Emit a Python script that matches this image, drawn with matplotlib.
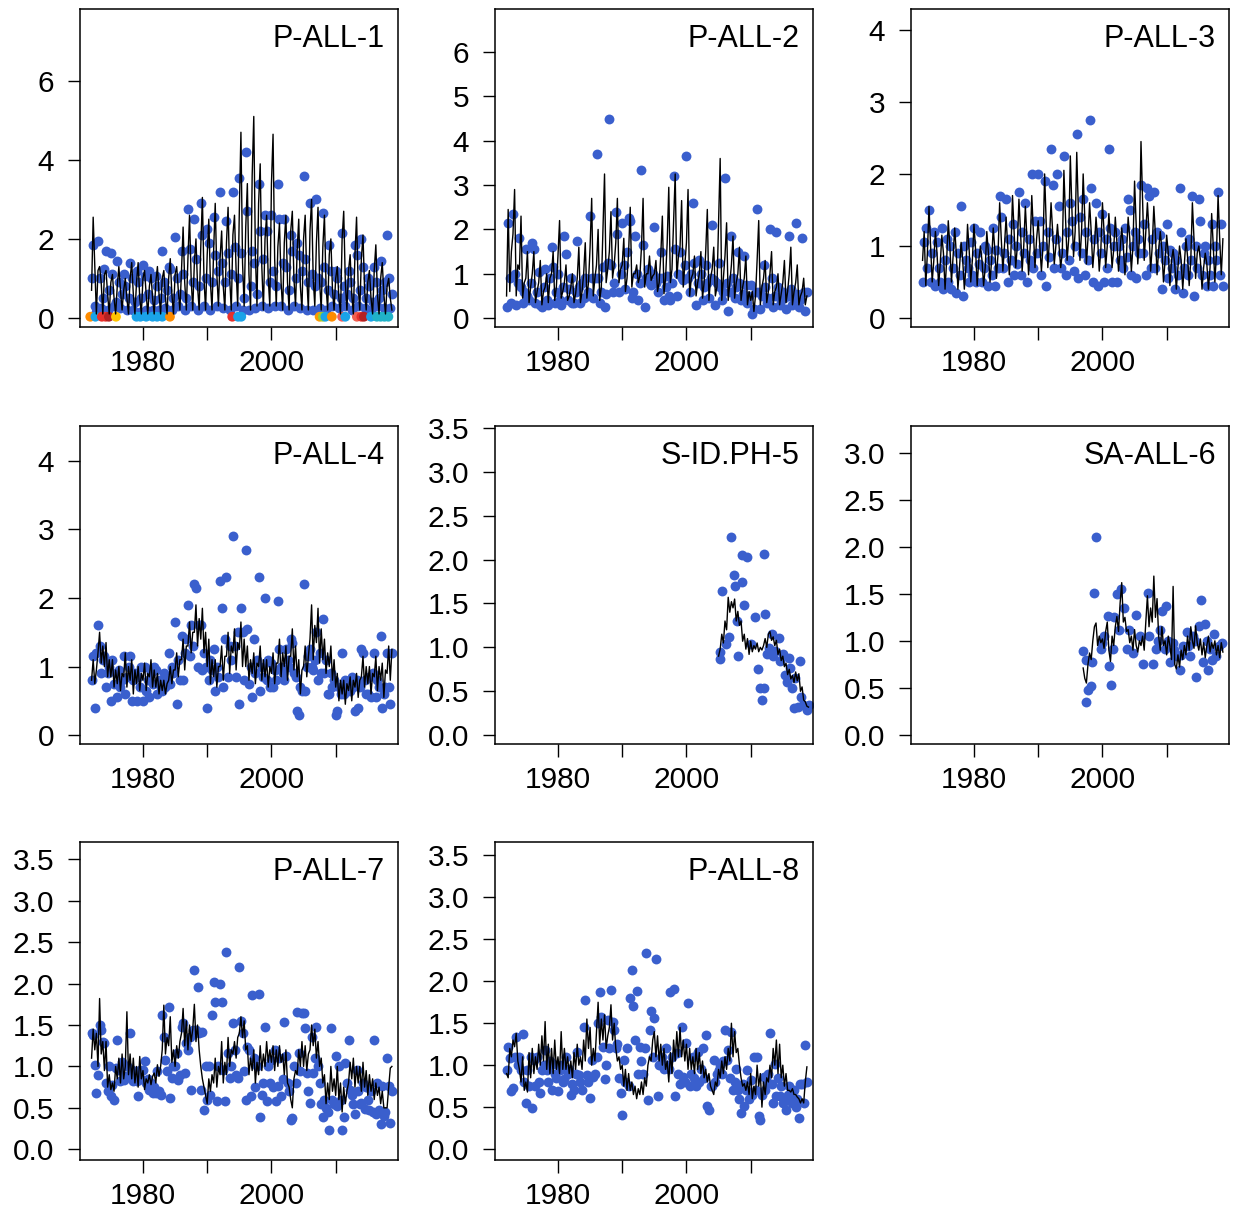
import matplotlib.pyplot as plt
import numpy as np

plt.rcParams['font.family'] = ['Liberation Sans', 'DejaVu Sans']

# quarterly time steps for the long series (1972.00 .. 2018.75)
quarters = np.arange(1972, 2019, 0.25)

names = ['P-ALL-1', 'P-ALL-2', 'P-ALL-3', 'P-ALL-4',
         'S-ID.PH-5', 'SA-ALL-6', 'P-ALL-7', 'P-ALL-8']

# ---- P-ALL-1 ----
p1_obs = [
    1.00, 1.85, 0.30, 0.15,  1.95, 1.00, 0.25, 0.50,  1.25, 1.70, 0.20, 0.70,
    1.65, 1.10, 0.30, 0.40,  1.45, 0.90, 0.25, 0.60,  1.10, 0.80, 0.20, 0.50,
    1.40, 1.00, 0.20, 0.40,  1.20, 0.90, 0.15, 0.50,  1.35, 1.05, 0.20, 0.60,
    1.20, 1.00, 0.20, 0.45,  1.05, 0.80, 0.20, 0.50,  1.70, 0.90, 0.25, 0.70,
    1.30, 1.25, 0.20, 0.50,  2.05, 1.00, 0.30, 0.60,  1.70, 1.10, 0.20, 0.50,
    2.75, 1.75, 0.30, 0.90,  2.50, 1.50, 0.20, 0.80,  2.90, 2.10, 0.30, 1.00,
    2.25, 1.90, 0.20, 0.90,  2.55, 1.60, 0.30, 1.20,  3.20, 1.40, 0.25, 0.90,
    2.45, 1.65, 0.20, 1.10,  3.20, 1.80, 0.30, 1.00,  3.55, 1.65, 0.20, 0.50,
    4.20, 2.70, 0.20, 0.80,  1.70, 1.40, 0.25, 0.60,  3.40, 2.20, 0.30, 1.50,
    2.60, 2.20, 0.25, 0.90,  2.60, 1.20, 0.30, 0.80,  3.40, 2.50, 0.30, 1.40,
    2.50, 1.30, 0.20, 0.70,  2.10, 1.70, 0.30, 1.00,  1.90, 1.60, 0.25, 1.20,
    3.60, 1.50, 0.20, 0.90,  2.90, 1.10, 0.20, 0.80,  3.00, 1.00, 0.25, 0.90,
    2.65, 1.30, 0.20, 0.70,  1.85, 1.20, 0.30, 0.60,  1.20, 1.00, 0.25, 0.50,
    2.15, 0.80, 0.30, 0.60,  1.20, 0.90, 0.20, 0.50,  1.85, 1.60, 0.30, 0.70,
    2.00, 1.30, 0.25, 0.50,  1.00, 0.80, 0.20, 0.40,  1.30, 0.90, 0.30, 0.50,
    1.45, 0.70, 0.25, 0.90,  2.10, 1.00, 0.25, 0.60,
]
p1_fit = [
    0.70, 2.55, 1.30, 0.10,  1.20, 1.30, 0.90, 0.10,  1.10, 1.20, 0.60, 0.10,
    0.90, 1.10, 0.50, 0.10,  0.80, 1.30, 0.70, 0.20,  0.70, 1.00, 0.50, 0.10,
    1.00, 1.40, 0.60, 0.10,  0.90, 1.40, 0.50, 0.10,  1.00, 1.20, 0.60, 0.10,
    0.80, 1.10, 0.50, 0.10,  0.90, 1.30, 0.60, 0.10,  1.00, 1.20, 0.50, 0.10,
    1.00, 1.50, 0.60, 0.10,  1.10, 1.30, 0.70, 0.20,  1.20, 2.30, 0.90, 0.20,
    1.50, 2.60, 1.00, 0.20,  1.40, 2.00, 0.80, 0.20,  1.80, 3.05, 1.00, 0.20,
    1.60, 2.50, 0.90, 0.20,  1.70, 2.90, 1.10, 0.30,  1.50, 2.20, 0.80, 0.20,
    1.90, 2.80, 1.00, 0.20,  2.10, 2.60, 1.20, 0.30,  2.70, 4.70, 1.40, 0.30,
    2.30, 3.40, 1.10, 0.20,  3.60, 5.10, 1.60, 0.30,  2.90, 3.90, 1.30, 0.20,
    2.00, 2.60, 1.00, 0.30,  3.40, 4.65, 1.50, 0.30,  1.80, 2.40, 0.90, 0.20,
    1.90, 2.60, 0.90, 0.20,  2.20, 2.70, 1.00, 0.30,  1.70, 2.50, 0.80, 0.20,
    2.00, 2.60, 1.00, 0.20,  2.20, 3.00, 1.00, 0.30,  1.90, 2.80, 0.90, 0.20,
    1.80, 2.60, 0.80, 0.20,  1.60, 2.00, 0.70, 0.20,  1.00, 1.30, 0.50, 0.10,
    2.00, 2.70, 0.90, 0.20,  1.20, 1.60, 0.60, 0.10,  1.60, 2.55, 0.80, 0.20,
    1.50, 2.10, 0.70, 0.20,  0.90, 1.20, 0.50, 0.10,  1.20, 1.85, 0.60, 0.10,
    1.00, 1.40, 0.60, 0.10,  0.80, 1.00, 0.50, 0.20,
]
# zero observations in P-ALL-1, coloured by group
lb = '#1AA3E8'
p1_zero_yr = [1971.8, 1972.6, 1973.6, 1974.2, 1974.7, 1975.8, 1979.0, 1979.6,
              1980.5, 1981.5, 1982.2, 1983.0, 1984.2, 1993.9, 1994.8, 1995.3,
              2007.5, 2008.0, 2008.4, 2009.4, 2011.0, 2011.5, 2013.3, 2014.0,
              2014.4, 2015.5, 2016.4, 2017.0, 2017.6, 2018.2]
p1_zero_col = ['#FF8C00', lb, '#E8302A', '#E8302A', '#B22222', '#FFC400', lb, lb,
               lb, lb, lb, lb, '#FF8C00', '#E8302A', lb, lb,
               '#FF9900', '#9ACD32', lb, '#FF8C00', '#F25B5B', lb, '#F06050', '#E8302A',
               '#B22222', lb, '#20B2C8', '#20B2C8', '#20B2C8', '#20B2C8']

# ---- P-ALL-2 ----
p2_obs = [
    0.25, 2.15, 0.90, 0.35,  2.35, 1.00, 0.30, 0.80,  1.80, 0.70, 0.35, 0.60,
    1.55, 0.50, 0.40, 0.80,  1.70, 1.55, 0.35, 0.60,  1.05, 0.30, 0.25, 0.70,
    1.10, 0.40, 0.30, 0.90,  1.60, 1.15, 0.35, 0.60,  1.00, 0.40, 0.30, 0.70,
    1.85, 1.45, 0.40, 0.65,  0.90, 0.35, 0.35, 0.60,  1.75, 0.70, 0.35, 0.80,
    0.45, 0.90, 0.50, 0.60,  2.30, 0.90, 0.45, 0.90,  3.70, 0.90, 0.35, 0.60,
    1.15, 0.25, 0.55, 1.25,  4.50, 1.20, 0.60, 0.80,  2.40, 1.90, 0.60, 1.00,
    2.15, 1.20, 0.65, 1.50,  2.25, 2.20, 0.45, 0.60,  1.85, 1.00, 0.40, 0.80,
    3.35, 1.65, 0.25, 0.90,  1.10, 0.80, 0.75, 1.00,  2.05, 0.80, 0.60, 0.90,
    1.50, 0.90, 0.40, 0.70,  0.95, 0.50, 0.40, 0.80,  3.20, 1.55, 0.50, 1.00,
    1.50, 0.90, 0.85, 1.20,  3.65, 0.90, 0.60, 1.00,  2.60, 1.25, 0.30, 0.80,
    1.30, 1.00, 0.40, 0.70,  1.20, 0.80, 0.45, 0.90,  2.10, 0.85, 0.30, 0.80,
    1.25, 0.70, 0.40, 0.60,  3.15, 0.80, 0.15, 0.60,  1.85, 0.90, 0.45, 0.70,
    1.50, 0.80, 0.40, 0.55,  1.40, 0.75, 0.35, 0.50,  0.75, 0.10, 0.20, 0.60,
    2.45, 0.60, 0.20, 0.50,  1.20, 0.70, 0.35, 0.45,  2.00, 0.90, 0.25, 0.50,
    1.95, 0.70, 0.30, 0.40,  0.60, 0.45, 0.20, 0.50,  1.85, 0.65, 0.30, 0.45,
    2.15, 0.55, 0.25, 0.40,  1.80, 0.60, 0.15, 0.60,
]
p2_fit = [
    0.50, 2.45, 0.60, 1.50,  1.90, 2.90, 0.50, 1.20,  1.10, 2.30, 0.45, 0.80,
    0.90, 1.50, 0.35, 0.70,  1.00, 1.50, 0.35, 0.60,  0.80, 1.30, 0.30, 0.60,
    0.70, 1.00, 0.35, 0.90,  1.00, 1.50, 0.40, 0.70,  1.40, 2.20, 0.45, 0.60,
    0.80, 1.20, 0.40, 0.50,  0.70, 1.00, 0.35, 0.55,  0.90, 1.60, 0.35, 0.60,
    1.00, 1.70, 0.45, 0.80,  1.60, 2.70, 0.50, 0.90,  1.20, 2.00, 0.40, 0.70,
    2.00, 3.25, 0.80, 1.10,  1.50, 2.40, 0.90, 1.20,  1.70, 2.70, 0.80, 1.10,
    1.20, 1.80, 0.60, 0.90,  1.50, 2.50, 0.70, 1.00,  1.00, 1.20, 0.80, 0.95,
    1.60, 2.70, 0.70, 1.00,  1.00, 1.40, 0.85, 0.95,  1.00, 1.30, 0.60, 0.80,
    1.40, 2.30, 0.55, 0.90,  1.70, 2.95, 0.80, 1.10,  2.20, 3.25, 0.90, 1.40,
    1.60, 2.65, 0.70, 1.20,  1.70, 2.90, 0.50, 0.90,  1.00, 1.40, 0.50, 0.80,
    1.00, 1.50, 0.45, 0.80,  1.50, 2.45, 0.40, 0.90,  1.10, 1.60, 0.50, 0.70,
    2.20, 3.60, 0.40, 0.90,  1.40, 2.15, 0.40, 0.80,  1.20, 1.85, 0.45, 0.80,
    1.00, 1.60, 0.40, 0.70,  0.90, 1.40, 0.30, 0.60,  0.40, 0.60, 0.15, 0.50,
    1.30, 2.20, 0.30, 0.70,  0.90, 1.30, 0.35, 0.60,  1.00, 1.50, 0.30, 0.60,
    0.70, 1.00, 0.30, 0.55,  0.80, 1.30, 0.35, 0.60,  1.00, 1.60, 0.30, 0.60,
    0.80, 1.20, 0.30, 0.50,  0.60, 0.90, 0.30, 0.50,
]

# ---- P-ALL-3 ----
p3_obs = [
    0.50, 1.05, 1.25, 0.70,  1.50, 0.50, 0.90, 1.20,  0.45, 1.05, 0.70, 0.50,
    1.25, 0.40, 0.80, 1.10,  0.50, 1.00, 0.40, 0.70,  1.20, 0.35, 0.90, 0.60,
    1.55, 0.30, 1.00, 0.80,  0.70, 0.50, 1.05, 0.60,  1.25, 0.50, 0.90, 0.75,
    1.20, 0.50, 0.70, 1.00,  0.95, 0.45, 0.80, 0.60,  1.25, 0.45, 0.95, 0.70,
    1.70, 1.40, 0.70, 0.90,  1.65, 0.50, 1.10, 0.80,  1.30, 0.60, 1.00, 0.75,
    1.75, 0.60, 1.20, 0.90,  1.60, 0.50, 1.10, 0.80,  2.00, 0.70, 1.35, 0.90,
    2.00, 1.35, 0.60, 1.00,  1.90, 0.45, 1.20, 0.85,  2.35, 1.85, 0.70, 1.10,
    2.00, 1.55, 0.70, 0.90,  2.25, 0.60, 1.20, 0.80,  1.60, 1.35, 0.65, 1.00,
    2.55, 0.55, 1.40, 0.90,  1.65, 0.60, 1.20, 0.80,  2.75, 1.80, 0.50, 1.10,
    1.60, 0.45, 1.20, 0.90,  1.45, 0.50, 1.10, 0.70,  2.35, 1.25, 0.50, 1.00,
    1.20, 0.50, 1.00, 0.80,  1.10, 0.70, 1.25, 0.85,  1.65, 1.50, 0.60, 1.00,
    1.20, 0.55, 1.10, 0.90,  1.85, 0.90, 1.30, 0.60,  1.80, 1.70, 0.70, 1.10,
    1.75, 0.70, 1.20, 0.90,  1.15, 0.40, 1.00, 0.80,  1.30, 0.55, 0.95, 0.70,
    0.90, 0.40, 0.80, 0.60,  1.80, 1.20, 0.35, 0.70,  1.00, 0.60, 1.10, 0.80,
    1.70, 0.30, 1.00, 0.70,  1.65, 1.35, 0.60, 0.90,  1.00, 0.45, 0.80, 0.60,
    1.30, 0.45, 1.00, 0.80,  1.75, 0.60, 1.30, 0.45,
]
p3_fit = [
    0.80, 1.20, 0.45, 0.90,  1.55, 1.00, 0.50, 0.80,  1.20, 0.90, 0.45, 0.75,
    1.15, 0.90, 0.40, 0.80,  1.35, 1.00, 0.50, 0.85,  1.25, 0.90, 0.40, 0.70,
    1.05, 0.80, 0.40, 0.70,  1.30, 0.95, 0.50, 0.80,  1.30, 0.95, 0.45, 0.80,
    1.00, 0.80, 0.45, 0.70,  1.20, 0.90, 0.50, 0.80,  1.25, 0.95, 0.55, 0.90,
    1.60, 1.10, 0.65, 1.00,  1.40, 1.00, 0.60, 0.90,  1.70, 1.20, 0.70, 1.00,
    1.65, 1.20, 0.65, 1.00,  1.55, 1.10, 0.60, 1.00,  1.70, 1.20, 0.70, 1.10,
    1.35, 1.00, 0.65, 1.00,  2.00, 1.30, 0.70, 1.10,  1.60, 1.20, 0.75, 1.00,
    1.30, 1.00, 0.70, 0.90,  2.05, 1.40, 0.80, 1.10,  2.25, 1.50, 0.85, 1.20,
    2.30, 1.50, 0.80, 1.20,  2.00, 1.40, 0.75, 1.10,  1.60, 1.20, 0.70, 1.00,
    1.40, 1.10, 0.65, 0.95,  1.60, 1.20, 0.70, 1.00,  1.45, 1.10, 0.70, 0.95,
    1.40, 1.05, 0.65, 0.95,  1.25, 1.00, 0.60, 0.90,  1.40, 1.10, 0.65, 1.00,
    1.90, 1.30, 0.75, 1.10,  2.45, 1.60, 0.80, 1.20,  1.60, 1.20, 0.65, 1.00,
    1.55, 1.15, 0.60, 0.95,  1.20, 0.95, 0.50, 0.80,  1.15, 0.90, 0.45, 0.80,
    0.95, 0.75, 0.40, 0.70,  1.00, 0.80, 0.40, 0.75,  1.10, 0.85, 0.45, 0.80,
    1.60, 1.10, 0.55, 0.90,  1.00, 0.80, 0.40, 0.70,  0.90, 0.75, 0.40, 0.70,
    1.45, 1.00, 0.50, 0.90,  1.70, 1.10, 0.60, 1.10,
]

# ---- P-ALL-4 ----
p4_obs = [
    0.80, 1.15, 0.40, 1.20,  1.60, 1.30, 0.90, 1.10,  1.15, 0.70, 0.90, 1.00,
    0.50, 1.10, 0.75, 0.90,  0.55, 0.95, 0.70, 0.80,  1.15, 0.60, 0.85, 1.00,
    1.15, 0.50, 0.80, 0.90,  0.50, 0.85, 0.70, 1.00,  0.50, 1.00, 0.65, 0.80,
    0.55, 0.90, 0.75, 1.00,  0.95, 0.60, 0.80, 0.70,  0.65, 0.90, 0.70, 0.80,
    1.20, 0.75, 1.00, 0.90,  1.65, 0.45, 1.10, 0.80,  1.45, 0.80, 1.20, 1.40,
    1.90, 1.15, 1.60, 1.30,  2.20, 2.15, 1.00, 1.60,  1.60, 0.95, 1.20, 1.00,
    0.40, 0.80, 1.10, 0.95,  1.25, 0.65, 1.00, 0.85,  2.25, 1.85, 0.70, 1.40,
    2.30, 0.85, 1.30, 1.10,  2.90, 1.30, 0.85, 1.50,  0.45, 1.85, 1.50, 0.80,
    2.70, 1.55, 0.75, 1.00,  0.55, 1.40, 0.90, 1.10,  2.30, 0.65, 1.00, 0.85,
    2.00, 0.80, 1.10, 0.70,  1.05, 0.70, 0.95, 0.80,  1.95, 1.25, 1.00, 0.90,
    0.80, 1.25, 1.10, 1.00,  1.40, 1.35, 0.90, 0.85,  0.35, 0.30, 0.70, 0.65,
    2.20, 0.65, 1.00, 1.15,  1.25, 1.00, 0.95, 1.10,  1.50, 0.80, 1.20, 0.90,
    1.70, 0.90, 1.10, 0.60,  0.60, 0.90, 0.70, 0.80,  0.30, 0.35, 0.70, 0.60,
    1.20, 0.60, 0.80, 0.70,  0.75, 0.65, 0.85, 0.70,  0.35, 0.80, 0.40, 0.70,
    1.25, 1.20, 0.80, 0.60,  0.60, 0.85, 0.55, 0.90,  1.20, 0.55, 0.80, 0.70,
    1.45, 0.40, 0.60, 0.70,  1.20, 0.70, 0.45, 1.20,
]
p4_fit = [
    0.80, 1.10, 0.75, 0.95,  1.20, 1.50, 1.05, 1.30,  1.00, 1.35, 0.85, 1.10,
    0.85, 1.10, 0.70, 0.95,  0.75, 1.00, 0.65, 0.90,  0.85, 1.20, 0.70, 1.00,
    0.80, 1.10, 0.60, 0.95,  0.75, 1.00, 0.65, 0.90,  0.80, 1.05, 0.65, 0.90,
    0.85, 1.10, 0.70, 0.95,  0.70, 0.90, 0.60, 0.80,  0.65, 0.80, 0.60, 0.75,
    0.80, 1.00, 0.75, 0.95,  0.95, 1.20, 0.85, 1.10,  1.10, 1.40, 0.95, 1.30,
    1.30, 1.65, 1.20, 1.50,  1.50, 1.90, 1.30, 1.70,  1.40, 1.85, 1.20, 1.50,
    1.00, 1.40, 0.75, 1.10,  0.85, 1.10, 0.70, 1.00,  1.00, 1.30, 0.80, 1.15,
    1.15, 1.50, 0.90, 1.30,  1.20, 1.55, 0.95, 1.35,  1.25, 1.65, 1.00, 1.40,
    1.00, 1.30, 0.80, 1.10,  0.90, 1.20, 0.75, 1.05,  1.00, 1.30, 0.80, 1.10,
    0.85, 1.10, 0.70, 1.00,  0.90, 1.20, 0.75, 1.05,  1.05, 1.40, 0.85, 1.20,
    1.00, 1.30, 0.80, 1.15,  1.15, 1.55, 0.95, 1.30,  0.85, 1.10, 0.60, 0.95,
    1.00, 1.30, 0.85, 1.15,  1.40, 1.90, 1.10, 1.60,  1.35, 1.85, 1.05, 1.55,
    1.10, 1.40, 0.90, 1.20,  1.00, 1.30, 0.80, 1.10,  0.70, 0.90, 0.50, 0.80,
    0.60, 0.80, 0.45, 0.75,  0.65, 0.85, 0.50, 0.80,  0.70, 0.90, 0.55, 0.80,
    0.85, 1.15, 0.70, 1.00,  0.75, 1.00, 0.60, 0.90,  0.85, 1.15, 0.65, 1.00,
    0.80, 1.05, 0.55, 0.95,  0.90, 1.30, 0.80, 1.25,
]

# ---- S-ID.PH-5 (2005 onwards) ----
p5_obs_yr = [2005.2, 2005.3, 2005.6, 2006.1, 2006.6, 2006.9, 2007.4, 2007.6,
             2007.9, 2008.0, 2008.6, 2008.7, 2009.0, 2009.4, 2010.1, 2010.7,
             2011.2, 2011.5, 2011.7, 2012.0, 2012.0, 2012.3, 2012.5, 2012.8,
             2013.3, 2013.5, 2013.8, 2014.4, 2014.6, 2015.1, 2015.4, 2015.6,
             2015.9, 2016.1, 2016.4, 2016.7, 2016.9, 2017.4, 2017.7, 2017.9,
             2018.2, 2018.7, 2019.1]
p5_obs = [0.95, 0.87, 1.64, 1.04, 1.12, 2.26, 1.82, 1.70,
          1.30, 0.90, 1.74, 2.05, 1.48, 2.03, 1.04, 1.35,
          0.75, 0.54, 0.40, 0.54, 2.06, 1.38, 0.92, 0.99,
          1.15, 0.90, 0.96, 1.11, 0.84, 0.92, 0.69, 0.61,
          0.88, 0.76, 0.54, 0.31, 0.65, 0.32, 0.84, 0.44,
          0.34, 0.29, 0.34]
p5_fit_yr = np.arange(2005, 2019.1, 0.25)
p5_fit = [
    0.90, 0.98, 1.15, 1.05,  1.30, 1.20, 1.57, 1.40,  1.52, 1.45, 1.55, 1.30,
    1.41, 1.25, 1.30, 1.07,  1.15, 0.98, 1.10, 0.92,  1.07, 0.95, 1.02, 0.98,
    1.05, 0.95, 1.00, 0.97,  1.02, 1.10, 1.00, 1.15,  1.18, 1.08, 1.12, 1.02,
    1.08, 0.92, 0.98, 0.85,  0.90, 0.78, 0.82, 0.69,  0.75, 0.64, 0.68, 0.60,
    0.72, 0.62, 0.70, 0.50,  0.55, 0.40, 0.38, 0.33,  0.32,
]

# ---- SA-ALL-6 (1997 onwards) ----
p6_obs_yr = [1997.0, 1997.4, 1997.5, 1997.8, 1998.2, 1998.4, 1998.7, 1999.0,
             1999.7, 2000.0, 2000.3, 2000.8, 2001.0, 2001.3, 2001.6, 2001.8,
             2002.2, 2002.6, 2002.9, 2003.4, 2003.8, 2004.2, 2004.8, 2005.2,
             2005.8, 2006.3, 2007.1, 2007.3, 2007.9, 2008.3, 2008.6, 2008.9,
             2009.2, 2009.7, 2009.9, 2010.2, 2010.5, 2011.0, 2011.2, 2011.5,
             2012.0, 2012.3, 2012.6, 2013.1, 2013.3, 2013.6, 2014.1, 2014.4,
             2014.6, 2015.1, 2015.4, 2015.7, 2016.0, 2016.3, 2016.5, 2016.8,
             2017.0, 2017.3, 2017.7, 2018.1, 2018.6]
p6_obs = [0.89, 0.80, 0.35, 0.48, 0.52, 0.77, 1.51, 2.11,
          0.91, 0.98, 1.05, 1.26, 0.73, 0.53, 0.91, 1.25,
          1.50, 1.12, 1.55, 1.35, 0.91, 1.12, 0.87, 1.28,
          1.05, 0.75, 1.51, 1.05, 0.75, 0.91, 1.00, 1.12,
          1.32, 0.91, 1.37, 1.00, 0.77, 0.98, 0.90, 0.84,
          0.69, 0.85, 0.94, 1.09, 0.95, 0.84, 1.05, 1.00,
          0.61, 1.16, 1.44, 0.77, 1.18, 1.00, 0.69, 0.91,
          0.80, 1.07, 0.84, 0.94, 0.98]
p6_fit_yr = np.arange(1997, 2019, 0.25)
p6_fit = [
    0.71, 0.60, 0.55, 0.75,  0.87, 0.80, 1.00, 1.15,  1.19, 0.95, 1.05, 0.98,
    1.02, 0.92, 1.10, 1.20,  0.90, 0.78, 1.05, 0.95,  1.15, 1.26, 1.10, 1.40,
    1.62, 1.20, 1.25, 1.10,  1.12, 0.98, 1.05, 0.90,  1.12, 0.95, 0.88, 1.00,
    0.95, 1.05, 0.90, 1.20,  1.48, 1.15, 1.35, 1.20,  1.69, 1.25, 1.45, 1.05,
    0.90, 1.15, 0.95, 1.00,  0.85, 1.05, 0.95, 0.80,  1.58, 0.75, 0.70, 0.85,
    0.72, 0.90, 0.80, 0.95,  0.85, 1.05, 0.90, 1.15,  1.00, 0.92, 1.16, 0.98,
    0.90, 1.02, 0.85, 0.98,  0.82, 0.95, 1.05, 0.88,  0.98, 0.92, 1.00, 0.85,
    0.95, 0.82, 0.98, 0.88,
]

# ---- P-ALL-7 ----
p7_obs = [
    1.40, 1.38, 1.02, 0.68,  0.90, 1.50, 1.44, 1.30,  1.28, 0.80, 0.70, 1.00,
    0.64, 0.78, 0.60, 0.98,  1.32, 0.96, 0.82, 1.05,  0.84, 0.88, 1.00, 0.90,
    1.40, 0.96, 0.82, 0.90,  0.82, 0.64, 0.96, 0.85,  0.96, 1.06, 0.80, 0.85,
    0.72, 0.80, 0.68, 0.75,  0.68, 0.94, 0.70, 0.66,  1.62, 1.36, 1.08, 0.94,
    1.72, 0.62, 0.86, 1.00,  1.00, 1.16, 0.84, 0.90,  1.48, 1.52, 0.92, 1.28,
    1.20, 1.35, 0.72, 1.44,  2.16, 1.44, 1.96, 1.40,  0.72, 1.42, 0.47, 1.00,
    0.60, 1.00, 0.65, 1.62,  2.02, 1.78, 0.58, 1.00,  2.00, 1.78, 0.96, 0.58,
    2.38, 1.16, 0.86, 1.00,  1.52, 1.20, 0.90, 0.86,  2.20, 1.55, 1.40, 0.95,
    0.60, 1.24, 1.20, 0.64,  1.86, 1.10, 0.75, 1.00,  1.88, 0.39, 0.65, 0.80,
    1.48, 0.58, 1.00, 0.80,  1.08, 0.75, 1.20, 0.58,  0.76, 1.10, 0.64, 0.85,
    1.54, 1.12, 0.80, 0.70,  0.35, 0.38, 1.00, 0.80,  1.66, 1.16, 0.95, 1.65,
    1.64, 1.46, 0.92, 0.70,  0.56, 1.36, 0.92, 1.10,  1.48, 1.00, 0.80, 0.55,
    0.39, 0.60, 0.50, 0.45,  0.23, 1.46, 0.60, 0.55,  1.12, 0.52, 1.00, 0.60,
    0.23, 0.39, 1.04, 0.80,  1.32, 0.72, 0.65, 0.55,  0.43, 0.96, 0.70, 0.55,
    0.56, 0.80, 0.49, 0.75,  0.60, 0.47, 0.70, 0.45,  1.32, 0.43, 0.80, 0.47,
    0.31, 0.76, 0.40, 0.45,  1.10, 0.76, 0.32, 0.70,
]
p7_fit = [
    1.10, 1.45, 1.20, 1.40,  1.00, 1.82, 1.15, 1.30,  0.95, 1.30, 0.75, 0.90,
    0.72, 0.80, 0.70, 1.00,  0.85, 1.10, 0.80, 1.15,  0.85, 1.00, 1.66, 0.90,
    1.15, 0.85, 1.10, 0.80,  1.00, 0.75, 1.12, 0.85,  0.95, 0.72, 0.85, 0.80,
    0.90, 0.78, 0.88, 0.92,  0.80, 1.02, 0.88, 1.00,  1.20, 1.74, 1.15, 1.35,
    1.25, 1.60, 1.05, 1.20,  1.00, 1.25, 1.10, 1.30,  1.40, 1.70, 1.25, 1.55,
    1.20, 1.50, 1.30, 1.45,  1.75, 1.30, 1.50, 1.20,  1.00, 0.85, 0.75, 0.65,
    0.55, 0.85, 0.70, 0.90,  0.80, 1.10, 0.75, 1.00,  0.90, 1.30, 0.80, 1.05,
    0.90, 1.35, 1.00, 1.20,  1.15, 1.30, 1.10, 1.35,  1.40, 1.60, 1.35, 1.55,
    1.20, 1.25, 0.90, 1.10,  0.95, 1.20, 0.80, 1.05,  0.90, 1.25, 0.95, 1.15,
    1.00, 1.30, 1.05, 1.20,  1.05, 1.25, 0.95, 1.20,  1.00, 1.25, 1.05, 1.15,
    0.90, 1.20, 0.80, 0.75,  0.60, 0.50, 0.85, 0.95,  0.90, 1.20, 1.00, 1.30,
    1.00, 1.25, 0.95, 1.15,  1.20, 1.50, 1.25, 1.45,  1.10, 1.30, 1.00, 1.10,
    0.80, 0.90, 0.55, 0.80,  0.60, 1.00, 0.70, 0.85,  0.65, 1.00, 0.60, 0.80,
    0.45, 0.75, 0.55, 0.70,  0.80, 1.05, 0.85, 1.10,  0.75, 1.00, 0.80, 1.00,
    0.70, 1.05, 0.75, 0.95,  0.65, 0.90, 0.70, 0.85,  0.60, 0.80, 0.65, 0.75,
    0.55, 0.70, 0.50, 0.50,  0.50, 0.75, 0.98, 1.00,
]

# ---- P-ALL-8 ----
p8_obs = [
    0.94, 1.22, 1.08, 0.69,  0.73, 1.10, 1.34, 1.00,  1.10, 0.94, 1.37, 0.80,
    0.55, 0.94, 0.75, 1.10,  0.49, 1.06, 0.75, 1.10,  0.80, 0.67, 0.94, 1.00,
    1.18, 0.94, 0.80, 1.05,  0.71, 1.02, 0.90, 0.85,  0.69, 0.94, 1.00, 0.80,
    0.84, 1.10, 0.90, 0.95,  0.65, 0.78, 0.71, 0.90,  1.16, 0.88, 0.80, 0.70,
    1.46, 1.78, 0.88, 0.80,  0.61, 1.06, 0.86, 0.90,  1.10, 1.50, 1.87, 1.58,
    1.22, 0.84, 1.00, 1.54,  1.20, 1.90, 1.52, 1.42,  1.20, 1.25, 0.85, 0.67,
    0.41, 1.06, 0.80, 1.20,  0.75, 1.80, 2.13, 1.70,  1.30, 1.89, 0.90, 1.22,
    1.05, 0.90, 1.20, 2.34,  0.59, 1.42, 1.64, 1.10,  1.56, 2.26, 0.63, 1.00,
    1.02, 1.10, 0.95, 1.20,  1.00, 0.95, 1.87, 1.10,  1.91, 0.63, 1.14, 0.90,
    0.78, 1.46, 0.86, 0.80,  1.26, 1.74, 0.75, 0.90,  1.10, 0.85, 0.75, 1.16,
    0.80, 0.95, 1.20, 0.85,  1.36, 0.51, 0.47, 0.75,  0.75, 1.06, 0.80, 0.90,
    0.94, 1.00, 0.90, 1.05,  1.42, 1.06, 1.18, 0.85,  1.40, 0.71, 0.80, 0.95,
    0.70, 0.60, 0.43, 0.78,  0.51, 0.70, 0.94, 0.60,  0.82, 0.65, 1.10, 0.70,
    1.10, 0.39, 0.35, 0.65,  0.86, 0.70, 0.80, 0.90,  1.38, 0.78, 0.55, 1.02,
    0.63, 0.85, 0.63, 0.75,  0.55, 0.60, 0.47, 0.65,  0.75, 0.60, 0.55, 0.70,
    0.50, 0.60, 0.37, 0.78,  0.78, 0.55, 1.24, 0.80,
]
p8_fit = [
    0.90, 0.85, 1.20, 1.10,  1.30, 1.22, 1.38, 1.05,  0.95, 0.80, 1.10, 0.70,
    0.80, 0.68, 1.15, 0.85,  1.20, 0.90, 1.10, 0.95,  1.25, 1.00, 1.35, 1.05,
    1.52, 0.95, 1.25, 0.90,  1.20, 0.90, 1.30, 0.95,  1.10, 0.90, 1.40, 0.95,
    1.20, 0.95, 1.10, 0.90,  1.05, 0.85, 1.15, 0.95,  1.25, 1.00, 1.10, 0.95,
    1.30, 1.05, 1.55, 1.20,  1.45, 1.00, 1.20, 1.05,  1.40, 1.75, 1.25, 1.55,
    1.30, 1.60, 1.20, 1.35,  1.45, 1.72, 1.30, 1.50,  1.20, 1.05, 1.10, 0.95,
    1.00, 0.75, 0.95, 0.70,  0.90, 0.70, 0.80, 0.65,  0.75, 0.60, 0.72, 0.65,
    0.80, 0.65, 0.85, 0.75,  1.00, 1.10, 1.05, 1.30,  1.40, 1.10, 1.35, 1.05,
    1.25, 1.00, 1.20, 0.95,  1.05, 0.80, 1.15, 0.90,  1.30, 1.05, 1.40, 1.10,
    1.45, 1.10, 1.30, 1.05,  1.25, 0.95, 1.20, 0.95,  1.10, 0.90, 1.20, 0.95,
    1.15, 0.90, 1.05, 0.85,  0.95, 0.80, 0.90, 0.75,  0.70, 0.65, 0.80, 0.75,
    0.95, 0.85, 1.05, 0.90,  1.10, 0.95, 1.20, 1.05,  1.50, 1.10, 1.40, 1.15,
    1.20, 1.00, 0.85, 0.75,  0.78, 0.70, 0.80, 0.65,  0.90, 0.60, 0.75, 0.65,
    1.00, 0.75, 0.90, 0.50,  0.80, 0.65, 0.85, 0.80,  1.00, 0.85, 1.20, 1.00,
    1.30, 0.90, 1.25, 0.85,  1.00, 0.75, 0.90, 0.70,  0.70, 0.68, 0.72, 0.65,
    0.65, 0.62, 0.60, 0.55,  0.60, 0.55, 0.80, 0.98,
]

obs_x = [quarters, quarters, quarters, quarters, p5_obs_yr, p6_obs_yr, quarters, quarters]
obs_y = [p1_obs, p2_obs, p3_obs, p4_obs, p5_obs, p6_obs, p7_obs, p8_obs]
fit_x = [quarters, quarters, quarters, quarters, p5_fit_yr, p6_fit_yr, quarters, quarters]
fit_y = [p1_fit, p2_fit, p3_fit, p4_fit, p5_fit, p6_fit, p7_fit, p8_fit]

ylims = [(-0.23, 7.82), (-0.20, 6.97), (-0.125, 4.29), (-0.13, 4.51),
         (-0.10, 3.52), (-0.10, 3.29), (-0.13, 3.71), (-0.13, 3.66)]
yticks = [[0, 2, 4, 6], [0, 1, 2, 3, 4, 5, 6], [0, 1, 2, 3, 4], [0, 1, 2, 3, 4],
          np.arange(0, 3.6, 0.5), np.arange(0, 3.1, 0.5),
          np.arange(0, 3.6, 0.5), np.arange(0, 3.6, 0.5)]
yfmt = ['%d', '%d', '%d', '%d', '%.1f', '%.1f', '%.1f', '%.1f']

blue = '#3A5FCD'
W, H = 1233, 1210
fig = plt.figure(figsize=(W / 100, H / 100), dpi=100)

lefts = [80, 495, 911]
tops = [9, 426, 842]

for i in range(8):
    r, c = divmod(i, 3)
    ax = fig.add_axes([lefts[c] / W, 1 - (tops[r] + 318) / H, 318 / W, 318 / H])
    ax.plot(obs_x[i], obs_y[i], 'o', color=blue, ms=7.1, mew=0, zorder=2)
    if i == 0:
        ax.scatter(p1_zero_yr, [0.03] * len(p1_zero_yr), s=50, c=p1_zero_col,
                   linewidths=0, zorder=2.5)
    ax.plot(fit_x[i], fit_y[i], color='black', lw=1.0, zorder=3)

    ax.set_xlim(1970.2, 2019.7)
    ax.set_ylim(*ylims[i])
    ax.set_xticks([1980, 1990, 2000, 2010])
    ax.set_xticklabels(['1980', '', '2000', ''])
    ax.set_yticks(yticks[i])
    ax.set_yticklabels([yfmt[i] % v for v in yticks[i]])
    ax.tick_params(direction='out', length=9, width=1, labelsize=21.5,
                   colors='black')
    ax.tick_params(axis='y', pad=9.5)
    ax.tick_params(axis='x', pad=7)
    for s in ax.spines.values():
        s.set_linewidth(1.1)
    ax.text(0.959, 0.882, names[i], transform=ax.transAxes, ha='right',
            va='baseline', fontsize=22)

fig.savefig('out.png', dpi=100)
